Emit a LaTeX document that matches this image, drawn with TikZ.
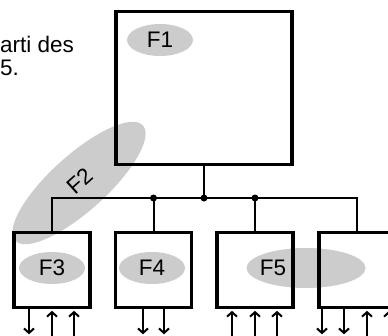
\documentclass[tikz,border=0pt]{standalone}
\usepackage{fontspec}
\setmainfont{Liberation Sans}
\usepackage{tikz}
\usetikzlibrary{arrows.meta,shapes.geometric}
\definecolor{blobgray}{RGB}{204,204,204}
\tikzset{
  fbox/.style={draw, line width=3.6pt, minimum width=76pt, minimum height=75pt, inner sep=0pt},
  blob/.style={ellipse, fill=blobgray, inner sep=0pt, minimum width=66pt, minimum height=32pt},
  wire/.style={line width=2pt},
  jdot/.style={circle, fill, inner sep=0pt, minimum size=7pt},
  outarrow/.style={line width=2pt, -{Straight Barb[length=4.5pt,width=10pt]}},
  inarrow/.style={line width=2pt, {Straight Barb[length=4.5pt,width=10pt]}-, shorten <=1.5pt},
}
\begin{document}
\begin{tikzpicture}[x=1pt, y=-1pt, font=\fontsize{22.5}{26}\selectfont]
    \useasboundingbox (0,0) rectangle (388,335);
    \clip (0,0) rectangle (388,335);
    \node[anchor=base west, inner sep=0pt] (txta) at (0,52) {arti des};
    \node[anchor=base west, inner sep=0pt] (txtb) at (0,75) {5.};
    \node[blob] (e1) at (160,40) {F1};
    \node[blob, rotate=42, minimum width=172pt, minimum height=56pt] (e2) at (79,183) {};
    \node[rotate=42] (t2) at (80,181) {F2};
    \node[blob] (e3) at (52,268) {F3};
    \node[blob] (e4) at (152,268) {F4};
    \node[blob, minimum width=119pt, minimum height=40pt] (e5) at (306,268) {};
    \node (t5) at (273,268) {F5};
    \node[fbox, minimum width=176.5pt, minimum height=153pt] (f1) at (204,88) {};
    \node[fbox] (f3) at (52,270) {};
    \node[fbox] (f4) at (153.5,270) {};
    \node[fbox] (f5) at (255,270) {};
    \node[fbox] (f6) at (357,270) {};
    \coordinate (bus) at (0,198);
    \node[jdot] (j1) at (f1.south |- bus) {};
    \node[jdot] (j4) at (f4.north |- bus) {};
    \node[jdot] (j5) at (f5.north |- bus) {};
    \draw[wire] (f3.north) |- (j1.center) -| (f6.north);
    \draw[wire] (f1.south) -- (j1.center);
    \draw[wire] (f4.north) -- (j4.center);
    \draw[wire] (f5.north) -- (j5.center);
    \foreach \b/\dx in {f3/-23, f4/-10.5, f4/10.5, f6/-35, f6/-13}
        \draw[outarrow] ([xshift=\dx pt]\b.south) -- ++(0,25);
    \foreach \b/\dx in {f3/0, f3/22, f5/-23, f5/0, f5/22, f6/10, f6/32}
        \draw[inarrow] ([xshift=\dx pt]\b.south) -- ++(0,30);
\end{tikzpicture}
\end{document}
